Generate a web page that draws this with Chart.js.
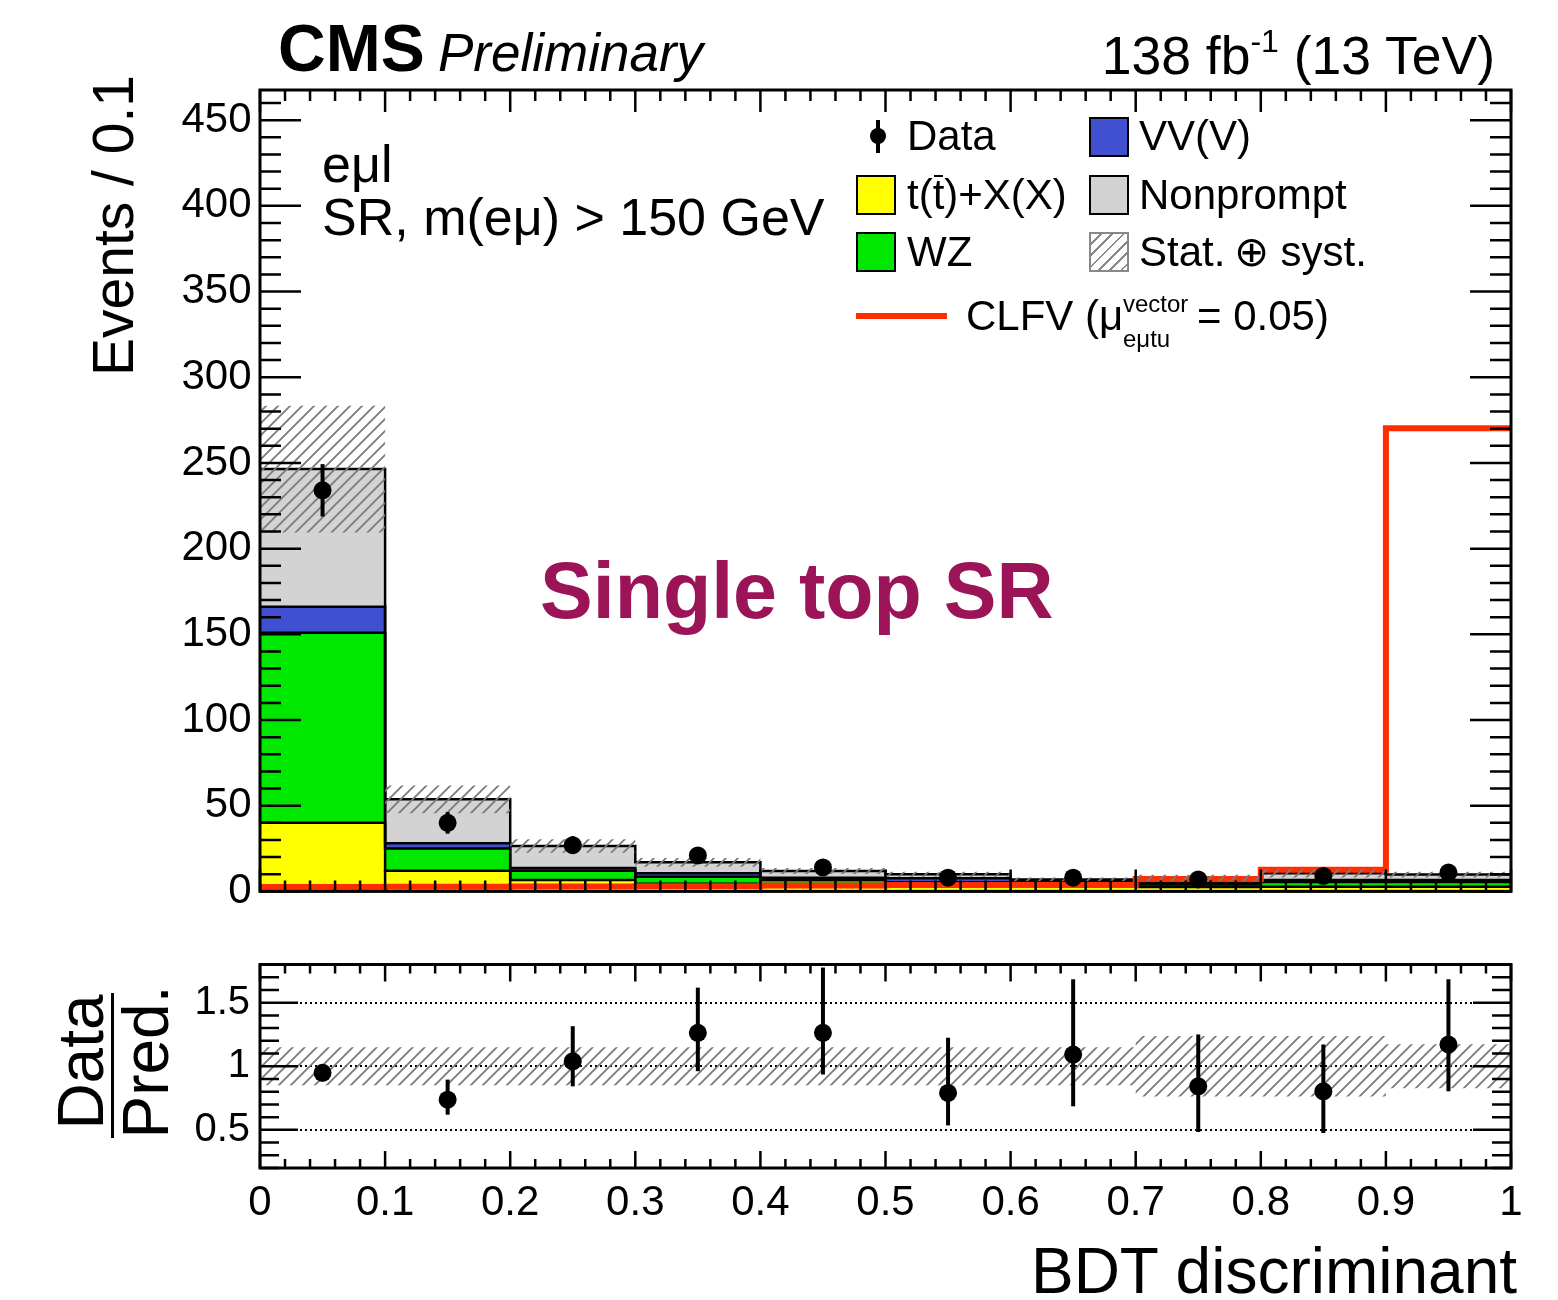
<!DOCTYPE html>
<html>
<head>
<meta charset="utf-8">
<script src="https://cdn.jsdelivr.net/npm/chart.js@4.4.1/dist/chart.umd.min.js"></script>
<style>
  body { margin: 0; background: #fff; width: 1558px; height: 1300px; position: relative; overflow: hidden;
         font-family: "Liberation Sans", Arial, Helvetica, sans-serif; }
  canvas { position: absolute; left: 0; }
  #mainPad { top: 0; }
  #ratioPad { top: 920px; }
  .t { position: absolute; white-space: nowrap; line-height: 1; color: #000; }
  .box { position: absolute; width: 40px; height: 40px; box-sizing: border-box; border: 2px solid #000; }
  .rot { transform-origin: 0 0; }
  .bar { position: relative; }
  .bar i { position: absolute; left: 1px; right: 1px; top: 4px; height: 2px; background: #000; }
</style>
</head>
<body>
<canvas id="mainPad" width="1558" height="940"></canvas>
<canvas id="ratioPad" width="1558" height="380"></canvas>

<!-- axis titles -->
<div class="t rot" style="font-size:57px;left:84.7px;top:75px;transform:rotate(-90deg) translateX(-100%);">Events / 0.1</div>
<div class="t rot" style="font-size:64px;left:48.8px;top:1062px;transform:rotate(-90deg) translateX(-50%);">Data</div>
<div class="t rot" style="font-size:64px;left:113.8px;top:1062px;transform:rotate(-90deg) translateX(-50%);">Pred.</div>
<div style="position:absolute;left:111.2px;top:993px;width:3px;height:145px;background:#000;"></div>

<!-- legend swatches -->
<div style="position:absolute;left:876px;top:120px;width:4px;height:33px;background:#000;"></div>
<div style="position:absolute;left:870px;top:128px;width:16px;height:16px;border-radius:50%;background:#000;"></div>
<div class="box" style="left:1089px;top:117px;background:#4050d0;"></div>
<div class="box" style="left:856px;top:175px;background:#ffff00;"></div>
<div class="box" style="left:1089px;top:175px;background:#d3d3d3;"></div>
<div class="box" style="left:856px;top:232px;background:#00e800;"></div>
<div class="box" style="left:1089px;top:232px;border-color:#888;background:repeating-linear-gradient(135deg, #fff 0 6px, #888 6px 8px);"></div>
<div style="position:absolute;left:856px;top:313px;width:91px;height:6px;background:#ff2d00;"></div>

<script>
// BDT discriminant binning
const binEdges = [0, 0.1, 0.2, 0.3, 0.4, 0.5, 0.6, 0.7, 0.8, 0.9, 1.0];
const binCentres = [0.05, 0.15, 0.25, 0.35, 0.45, 0.55, 0.65, 0.75, 0.85, 0.95];

// expected events per bin, stacked from the bottom up
const ttX = [40.0, 12.0, 6.7, 4.4, 3.4, 2.9, 2.9, 2.6, 2.7, 2.7];
const wz = [110.9, 13.1, 5.4, 4.2, 3.3, 2.5, 2.0, 1.4, 2.8, 2.8];
const vvv = [15.2, 3.0, 1.6, 2.0, 1.3, 2.2, 1.0, 0.7, 1.2, 1.2];
const nonprompt = [80.3, 25.6, 12.8, 6.4, 3.9, 2.4, 1.1, 3.2, 3.9, 3.1];

// signal, mu = 0.05
const clfv = [2.5, 2.7, 2.9, 3.0, 3.4, 3.7, 3.7, 7.2, 12.7, 270.2];

// observed
const dataCounts = [234, 40, 27, 21, 14, 8, 8, 7, 9, 11];
const dataErr = [15.3, 6.3, 5.2, 4.6, 3.7, 2.8, 2.8, 2.6, 3.0, 3.3];

// total relative uncertainty (stat + syst)
const relUnc = [0.15, 0.15, 0.15, 0.15, 0.15, 0.15, 0.15, 0.237, 0.237, 0.172];

// data / prediction
const ratio = [0.948, 0.737, 1.039, 1.263, 1.263, 0.79, 1.092, 0.842, 0.803, 1.171];
const ratioHi = [1.005, 0.895, 1.315, 1.618, 1.776, 1.224, 1.684, 1.25, 1.171, 1.684];
const ratioLo = [0.882, 0.619, 0.842, 0.961, 0.935, 0.535, 0.685, 0.483, 0.475, 0.803];

// axis ticks
const xTickValues = [0, 0.1, 0.2, 0.3, 0.4, 0.5, 0.6, 0.7, 0.8, 0.9, 1];
const xTickLabels = ['0', '0.1', '0.2', '0.3', '0.4', '0.5', '0.6', '0.7', '0.8', '0.9', '1'];
const yTickValues = [0, 50, 100, 150, 200, 250, 300, 350, 400, 450];
const ratioTickValues = [0.5, 1, 1.5];

const FONT = '"Liberation Sans", Arial, Helvetica, sans-serif';
const COL = { ttX: '#ffff00', wz: '#00e800', vvv: '#4050d0', np: '#d3d3d3', sig: '#ff2d00' };

// histogram as stepped points on the bin edges
function hist(vals) {
  const pts = vals.map((v, i) => ({ x: binEdges[i], y: v }));
  pts.push({ x: binEdges[binEdges.length - 1], y: vals[vals.length - 1] });
  return pts;
}

// running sums of the stack layers
const layers = [ttX, wz, vvv, nonprompt];
const stackTops = [];
layers.forEach((l, k) => stackTops.push(l.map((v, i) => v + (k ? stackTops[k - 1][i] : 0))));
const total = stackTops[3];

// grey "/" hatching
function hatch(size, color, width) {
  const c = document.createElement('canvas');
  c.width = c.height = size;
  const p = c.getContext('2d');
  p.strokeStyle = color;
  p.lineWidth = width;
  p.beginPath();
  p.moveTo(0, size); p.lineTo(size, 0);
  p.moveTo(-size / 2, size / 2); p.lineTo(size / 2, -size / 2);
  p.moveTo(size / 2, size * 1.5); p.lineTo(size * 1.5, size / 2);
  p.stroke();
  return p.createPattern(c, 'repeat');
}
const hatchFill = hatch(12, '#7a7a7a', 1.8);

// frame and ROOT-style inside ticks on all four sides
function insideTicks(ctx, a, scale, step, every, majorLen, minorLen, horizontal) {
  const kMin = Math.ceil(scale.min / step - 1e-6);
  const kMax = Math.floor(scale.max / step + 1e-6);
  for (let k = kMin; k <= kMax; k++) {
    const p = scale.getPixelForValue(k * step);
    const len = k % every === 0 ? majorLen : minorLen;
    if (horizontal) {
      ctx.moveTo(p, a.bottom); ctx.lineTo(p, a.bottom - len);
      ctx.moveTo(p, a.top); ctx.lineTo(p, a.top + len);
    } else {
      ctx.moveTo(a.left, p); ctx.lineTo(a.left + len, p);
      ctx.moveTo(a.right, p); ctx.lineTo(a.right - len, p);
    }
  }
}
const frameTicks = {
  id: 'frameTicks',
  afterDatasetsDraw(chart, args, o) {
    const { ctx, chartArea: a, scales } = chart;
    ctx.save();
    ctx.strokeStyle = '#000';
    ctx.lineWidth = 2.5;
    ctx.beginPath();
    insideTicks(ctx, a, scales.x, o.xStep, 5, o.xMajor, o.xMinor, true);
    insideTicks(ctx, a, scales.y, o.yStep, 5, o.yMajor, o.yMinor, false);
    ctx.stroke();
    ctx.lineWidth = 3;
    ctx.strokeRect(a.left, a.top, a.right - a.left, a.bottom - a.top);
    ctx.restore();
  }
};

// vertical error bars for datasets carrying errLo / errHi
const errorBars = {
  id: 'errorBars',
  afterDatasetsDraw(chart) {
    const { ctx, scales: { x, y } } = chart;
    ctx.save();
    ctx.strokeStyle = '#000';
    ctx.lineWidth = 4;
    chart.data.datasets.forEach(ds => {
      if (!ds.errLo) return;
      ds.data.forEach((pt, i) => {
        const px = x.getPixelForValue(pt.x);
        ctx.beginPath();
        ctx.moveTo(px, y.getPixelForValue(ds.errLo[i]));
        ctx.lineTo(px, y.getPixelForValue(ds.errHi[i]));
        ctx.stroke();
      });
    });
    ctx.restore();
  }
};

Chart.defaults.font.family = FONT;
Chart.defaults.color = '#000';

const histStyle = { pointRadius: 0, tension: 0, stepped: 'before', borderColor: 'transparent', borderWidth: 0 };
const fillColours = [COL.ttX, COL.wz, COL.vvv, COL.np];

const mainSets = [];
stackTops.forEach((top, k) => mainSets.push(Object.assign({}, histStyle, {
  data: hist(top), fill: k === 0 ? 'origin' : k - 1, backgroundColor: fillColours[k], order: 20 - k
})));
stackTops.forEach(top => mainSets.push(Object.assign({}, histStyle, {
  data: hist(top), fill: false, borderColor: '#000', borderWidth: 2.5, order: 15
})));
mainSets.push(Object.assign({}, histStyle, {
  data: hist(clfv), fill: false, borderColor: COL.sig, borderWidth: 6, order: 12
}));
const bandDownIndex = mainSets.length;
mainSets.push(Object.assign({}, histStyle, {
  data: hist(total.map((t, i) => t * (1 - relUnc[i]))), fill: false, order: 11
}));
mainSets.push(Object.assign({}, histStyle, {
  data: hist(total.map((t, i) => t * (1 + relUnc[i]))), fill: bandDownIndex, backgroundColor: hatchFill, order: 10
}));
mainSets.push({
  data: binCentres.map((c, i) => ({ x: c, y: dataCounts[i] })),
  showLine: false, pointRadius: 9, pointBackgroundColor: '#000', pointBorderWidth: 0, order: 0,
  errLo: dataCounts.map((d, i) => d - dataErr[i]),
  errHi: dataCounts.map((d, i) => d + dataErr[i])
});

new Chart(document.getElementById('mainPad'), {
  type: 'line',
  data: { datasets: mainSets },
  options: {
    responsive: false,
    animation: false,
    events: [],
    layout: { padding: { top: 90, right: 47, bottom: 48.6, left: 0 } },
    plugins: {
      legend: { display: false },
      tooltip: { enabled: false },
      frameTicks: { xStep: 0.02, xMajor: 22, xMinor: 11, yStep: 10, yMajor: 41, yMinor: 21 }
    },
    scales: {
      x: { type: 'linear', min: 0, max: 1, display: false },
      y: {
        type: 'linear', min: 0, max: 467.6,
        afterFit(s) { s.width = 260; },
        afterBuildTicks(s) { s.ticks = yTickValues.map(v => ({ value: v })); },
        ticks: { font: { size: 42 }, color: '#000', padding: 8.5, callback: v => String(v) },
        grid: { display: false, drawTicks: false },
        border: { display: false }
      }
    }
  },
  plugins: [frameTicks, errorBars]
});

new Chart(document.getElementById('ratioPad'), {
  type: 'line',
  data: {
    datasets: [
      Object.assign({}, histStyle, { data: hist(relUnc.map(u => 1 - u)), fill: false, order: 11 }),
      Object.assign({}, histStyle, { data: hist(relUnc.map(u => 1 + u)), fill: 0, backgroundColor: hatchFill, order: 10 }),
      {
        data: binCentres.map((c, i) => ({ x: c, y: ratio[i] })),
        showLine: false, pointRadius: 9, pointBackgroundColor: '#000', pointBorderWidth: 0, order: 0,
        errLo: ratioLo, errHi: ratioHi
      }
    ]
  },
  options: {
    responsive: false,
    animation: false,
    events: [],
    layout: { padding: { top: 44.5, right: 47, bottom: 0, left: 0 } },
    plugins: {
      legend: { display: false },
      tooltip: { enabled: false },
      frameTicks: { xStep: 0.02, xMajor: 17, xMinor: 9, yStep: 0.1, yMajor: 38, yMinor: 19 }
    },
    scales: {
      x: {
        type: 'linear', min: 0, max: 1,
        afterFit(s) { s.height = 132; },
        afterBuildTicks(s) { s.ticks = xTickValues.map(v => ({ value: v })); },
        ticks: { font: { size: 42 }, color: '#000', padding: 10, maxRotation: 0, autoSkip: false,
                 callback: (v, i) => xTickLabels[i] },
        grid: { display: false, drawTicks: false },
        border: { display: false }
      },
      y: {
        type: 'linear', min: 0.2, max: 1.8,
        afterFit(s) { s.width = 260; },
        afterBuildTicks(s) { s.ticks = ratioTickValues.map(v => ({ value: v })); },
        ticks: { font: { size: 40 }, color: '#000', padding: 10, callback: v => String(v) },
        grid: { color: '#000', lineWidth: 2, drawTicks: false },
        border: { display: false, dash: [2, 3] }
      }
    }
  },
  plugins: [frameTicks, errorBars]
});

// text placed on its baseline
function addText(html, x, base, size, extra) {
  const d = document.createElement('div');
  d.className = 't';
  d.innerHTML = html;
  d.style.fontSize = size + 'px';
  d.style.top = (base - 0.8465 * size) + 'px';
  if (extra && extra.right) d.style.right = (1558 - x) + 'px';
  else d.style.left = x + 'px';
  if (extra && extra.style) d.setAttribute('style', d.getAttribute('style') + ';' + extra.style);
  document.body.appendChild(d);
}

addText('CMS', 278, 71, 66, { style: 'font-weight:bold' });
addText('Preliminary', 438, 71, 53, { style: 'font-style:italic' });
addText('138 fb<span style="font-size:32px;position:relative;top:-22px">-1</span> (13 TeV)', 1495, 74, 53.5, { right: true });
addText('eμl', 322, 182, 52);
addText('SR, m(eμ) &gt; 150 GeV', 322, 235, 52);
addText('Single top SR', 540, 618, 79, { style: 'font-weight:bold;color:#9b1458' });

addText('Data', 907, 151, 42);
addText('VV(V)', 1139, 151, 42);
addText('t(<span class="bar">t<i></i></span>)+X(X)', 907, 210, 42);
addText('Nonprompt', 1139, 210, 42);
addText('WZ', 907, 267, 42);
addText('Stat.&thinsp;⊕ syst.', 1139, 267, 42);
addText('CLFV (μ', 966, 331, 42);
addText('vector', 1123, 312, 24);
addText('eμtu', 1123, 347, 24);
addText('= 0.05)', 1197, 331, 42);

addText('BDT discriminant', 1517, 1293, 64, { right: true });
</script>
</body>
</html>
